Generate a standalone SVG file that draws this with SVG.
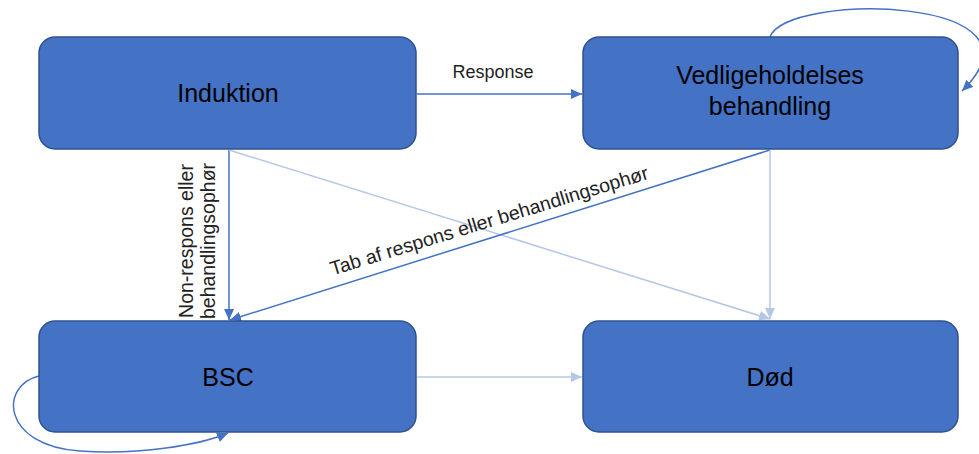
<svg xmlns="http://www.w3.org/2000/svg" width="979" height="454" viewBox="0 0 979 454">
<style>
.node rect{fill:#4472C4;stroke:#2F528F;stroke-width:1.5}
.node text{font-family:"Liberation Sans",Arial,sans-serif;font-size:25px;fill:#000;text-anchor:middle}
.lbl{font-family:"Liberation Sans",Arial,sans-serif;font-size:18px;fill:#222;text-anchor:middle}
.big{font-size:19.5px}
.dk{stroke:#4472C4;stroke-width:1.5;fill:none;marker-end:url(#ad)}
.lt{stroke:#B4C7E7;stroke-width:1.5;fill:none;marker-end:url(#al)}
</style>
<defs>
<marker id="ad" markerUnits="userSpaceOnUse" markerWidth="12" markerHeight="10" refX="11" refY="5" orient="auto"><path d="M0,0 L11,5 L0,10 z" fill="#4472C4"/></marker>
<marker id="al" markerUnits="userSpaceOnUse" markerWidth="12" markerHeight="10" refX="11" refY="5" orient="auto"><path d="M0,0 L11,5 L0,10 z" fill="#B4C7E7"/></marker>
</defs>
<rect width="979" height="454" fill="#fff"/>
<g id="connectors">
<line class="dk" x1="417" y1="94" x2="582" y2="94"/>
<line class="dk" x1="229" y1="150" x2="229" y2="320"/>
<line class="lt" x1="229" y1="150" x2="770" y2="319"/>
<line class="dk" x1="770" y1="150" x2="230" y2="320"/>
<line class="lt" x1="770" y1="150" x2="770" y2="319"/>
<line class="lt" x1="417" y1="377" x2="582" y2="377"/>
<path class="dk" d="M 770 37 C 785 -8, 1060 -5, 962 91"/>
<path class="dk" d="M 39 376 C 0 385, 0 445, 80 451 C 140 455, 200 445, 228 433"/>
<text class="lbl" x="493" y="78">Response</text>
<text class="lbl big" transform="translate(193,241) rotate(-90)">Non-respons eller</text>
<text class="lbl big" transform="translate(215,241) rotate(-90)">behandlingsophør</text>
<text class="lbl big" transform="translate(491,227) rotate(-17)">Tab af respons eller behandlingsophør</text>
</g>
<g id="induktion" class="node"><rect x="39" y="37" width="377" height="112" rx="16"/><text x="228" y="102">Induktion</text></g>
<g id="vedligeholdelse" class="node"><rect x="583" y="37" width="375" height="112" rx="16"/><text x="770" y="84">Vedligeholdelses</text><text x="770" y="115">behandling</text></g>
<g id="bsc" class="node"><rect x="39" y="321" width="377" height="111" rx="16"/><text x="228" y="386">BSC</text></g>
<g id="dod" class="node"><rect x="583" y="321" width="375" height="111" rx="16"/><text x="770" y="386">Død</text></g>
</svg>
